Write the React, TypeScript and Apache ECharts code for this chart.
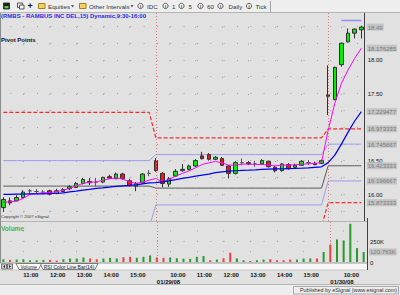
import React, { useEffect, useRef } from 'react';
import * as echarts from 'echarts';

const FONT = 'Liberation Sans, Arial, sans-serif';

// ---- categories (15-minute bars) ----
const dayDates = ['01/28/08', '01/29/08', '01/30/08'];
const day1Times = ['10:15','10:30','10:45','11:00','11:15','11:30','11:45','12:00','12:15','12:30','12:45','13:00','13:15','13:30','13:45','14:00','14:15','14:30','14:45','15:00','15:15','15:30','15:45'];
const day2Times = ['9:30','9:45','10:00','10:15','10:30','10:45','11:00','11:15','11:30','11:45','12:00','12:15','12:30','12:45','13:00','13:15','13:30','13:45','14:00','14:15','14:30','14:45','15:00','15:15','15:30','15:45'];
const day3Times = ['9:30','9:45','10:00','10:15','10:30','10:45'];
const dayTimes = [day1Times, day2Times, day3Times];

// ---- OHLC ----
const opens = [15.80,15.90,15.90,15.95,16.05,16.04,16.03,16.05,16.01,16.04,16.08,16.10,16.16,16.19,16.18,16.18,16.26,16.23,16.30,16.20,16.12,16.17,16.31,
  16.50,16.31,16.15,16.27,16.35,16.37,16.42,16.57,16.59,16.52,16.53,16.42,16.31,16.47,16.47,16.45,16.45,16.49,16.40,16.35,16.44,16.40,16.43,16.47,16.46,16.46,
  17.48,17.41,17.93,18.27,18.40,18.45];
const closes = [15.92,15.87,15.95,16.03,16.05,16.04,16.03,16.00,16.05,16.07,16.11,16.16,16.22,16.17,16.18,16.25,16.24,16.30,16.23,16.13,16.16,16.30,16.31,
  16.35,16.16,16.23,16.34,16.37,16.42,16.50,16.53,16.52,16.55,16.43,16.31,16.47,16.47,16.45,16.45,16.50,16.41,16.35,16.45,16.38,16.43,16.49,16.47,16.44,16.50,
  17.46,17.89,18.25,18.40,18.46,18.49];
const highs = [15.955,15.95,15.985,16.06,16.075,16.075,16.06,16.067,16.08,16.09,16.134,16.18,16.243,16.239,16.243,16.26,16.291,16.321,16.318,16.224,16.18,16.313,16.358,
  16.537,16.328,16.254,16.373,16.448,16.44,16.522,16.631,16.612,16.567,16.552,16.433,16.493,16.533,16.493,16.497,16.522,16.5,16.418,16.463,16.463,16.455,16.507,16.507,16.485,16.515,
  17.92,17.90,18.26,18.47,18.47,18.51];
const lows = [15.736,15.836,15.896,15.936,16.0,16.015,16.0,15.985,16.0,16.03,16.06,16.09,16.145,16.134,16.12,16.164,16.224,16.224,16.216,16.112,16.045,16.157,16.269,
  16.336,16.10,16.109,16.261,16.336,16.358,16.403,16.515,16.5,16.507,16.418,16.234,16.291,16.433,16.433,16.407,16.433,16.396,16.324,16.336,16.366,16.388,16.425,16.433,16.433,16.448,
  17.18,17.40,17.90,18.26,18.32,18.32];

// ---- moving averages ----
const magentaMA = [15.881,15.885,15.896,15.936,15.996,16.01,16.019,16.025,16.034,16.06,
  16.085,16.124,16.16,16.179,16.179,16.209,16.228,16.243,16.228,16.184,
  16.16,16.179,16.209,16.234,16.184,16.22,16.269,16.309,16.348,16.393,
  16.443,16.467,16.488,16.467,16.433,16.433,16.448,16.448,16.443,16.443,
  16.433,16.422,16.433,16.433,16.437,16.448,16.452,16.458,16.473,16.955,
  17.354,17.652,17.851,18.025,18.176285];
const blueMA = [15.996,15.996,16.0,16.0,16.004,16.004,16.004,16.01,16.01,16.019,
  16.034,16.045,16.06,16.07,16.085,16.094,16.104,16.115,16.124,16.13,
  16.139,16.154,16.169,16.172,16.184,16.199,16.216,16.234,16.251,16.269,
  16.284,16.299,16.321,16.333,16.343,16.349,16.354,16.358,16.363,16.369,
  16.373,16.376,16.378,16.381,16.384,16.388,16.393,16.4,16.407,16.47,
  16.582,16.746,16.925,17.09,17.229477];

// ---- pivot levels per day ----
const pivotR1 = [17.22, 16.84, 16.973333];
const pivotMidHigh = [16.50, 16.59, 16.745667];
const pivotP = [16.12, 16.09, 16.423333];
const pivotMidLow = [15.50, 15.84, 16.196667];
const pivotS1 = [15.20, 15.52, 15.873333];
const sessionHigh = [null, null, 18.59];
const sessionHighFromTime = '10:00';

// ---- volume (thousands) ----
const volumes = [33,25,29,33,21,21,25,25,17,33,
  42,42,54,42,33,42,50,42,58,62,
  50,62,79,55,50,55,45,40,38,62,
  71,21,29,45,112,42,21,12,21,29,
  33,21,21,29,29,42,42,42,120,208,
  271,259,459,167,120.763];
const volumeDir = ['u','d','u','u','u','u','u','d','d','u',
  'u','u','u','d','d','u','u','u','d','d',
  'u','u','u','d','d','u','u','u','u','u',
  'u','d','u','d','d','u','u','d','u','u',
  'd','d','d','d','u','u','u','d','u','d',
  'u','u','u','u','u'];

// ---- axis labels ----
const priceGridLevels = [15.75,16,16.25,16.5,16.75,17,17.25,17.5,17.75,18,18.25,18.5];
const priceLabelValues = [18.49, 18.176285, 18.0, 17.5, 17.229477, 16.973333, 16.745667, 16.5, 16.423333, 16.196667, 16.0, 15.873333];
const priceLabelTexts = ['18.49','18.176285','18.00','17.50','17.229477','16.973333','16.745667','16.50','16.423333','16.196667','16.00','15.873333'];
const priceLabelBoxed = [true, true, false, false, true, true, true, false, true, true, false, true];
const volumeLabelValues = [0, 120.763, 250];
const volumeLabelTexts = ['0', '120.763K', '250K'];
const volumeLabelBoxed = [false, true, false];

const categories: string[] = dayDates.flatMap((d, k) => dayTimes[k].map((t) => `${d} ${t}`));
const timeOf = (c: string) => c.split(' ')[1];
const dateOf = (c: string) => c.split(' ')[0];
const perBar = (vals: (number | null)[]) => dayTimes.flatMap((ts, k) => ts.map(() => vals[k]));
const isHour = (i: number) => timeOf(categories[i]).endsWith(':00');
const isDayStart = (i: number) => timeOf(categories[i]) === '9:30';
const dayStartCats = categories.filter((c, i) => isDayStart(i));

const sessionHighData = (() => {
  const base = perBar(sessionHigh);
  const lastDay = dayDates[dayDates.length - 1];
  const startIdx = categories.indexOf(`${lastDay} ${sessionHighFromTime}`);
  return base.map((v, i) => (i >= startIdx ? v : null));
})();

const labelFmt = (vals: number[], texts: string[], boxed: boolean[]) => (v: number) => {
  let k = 0;
  let best = Infinity;
  vals.forEach((x, i) => { const d = Math.abs(x - v); if (d < best) { best = d; k = i; } });
  return boxed[k] ? `{b|${texts[k]}}` : `{p|${texts[k]}}`;
};

const richLabels = {
  b: { backgroundColor: '#c4c4c4', color: '#7a7a7a', fontSize: 6, fontFamily: FONT, padding: [1, 1, 0, 1] },
  p: { color: '#111111', fontSize: 6, fontFamily: FONT, padding: [1, 1, 0, 1] },
};

const dotted = '#9c9c9c';

const pivotLine = (name: string, vals: (number | null)[], color: string, type: any, width = 1) => ({
  name, type: 'line', xAxisIndex: 0, yAxisIndex: 0, data: perBar(vals), symbol: 'none', showSymbol: false,
  z: 1, silent: true, connectNulls: false,
  lineStyle: { color, width, type },
});

const T = (x: number, y: number, text: string, o: any = {}) => ({
  type: 'text', x, y, z: 60, silent: true,
  style: {
    text, fill: o.fill || '#222', fontSize: o.size || 6, fontWeight: o.weight || 'normal',
    fontFamily: FONT, align: o.align || 'left', verticalAlign: 'middle',
  },
});
const L = (x1: number, y1: number, x2: number, y2: number, stroke: string, z = 55) => ({
  type: 'line', z, silent: true, shape: { x1, y1, x2, y2 }, style: { stroke, lineWidth: 1 },
});
const R = (x: number, y: number, w: number, h: number, fill: string, stroke?: string, z = 55) => ({
  type: 'rect', z, silent: true, shape: { x, y, width: w, height: h },
  style: { fill, stroke: stroke || null, lineWidth: stroke ? 1 : 0 },
});
const circI = (cx: number) => [
  { type: 'circle', z: 60, silent: true, shape: { cx, cy: 6, r: 2.6 }, style: { fill: '#f6f6f6', stroke: '#333', lineWidth: 0.8 } },
  T(cx, 6.2, 'I', { size: 4, align: 'center', fill: '#222', weight: 'bold' }),
];

const graphics: any[] = [
  // toolbar
  R(0, 0, 400, 12.5, '#eeeeee', undefined, 50),
  L(0, 12.5, 400, 12.5, '#b4b4b4'),
  R(3.5, 3, 6, 6, '#1c1c1c', '#333'),
  R(4.5, 6, 4, 2.2, '#4cd04c'),
  R(17.5, 3, 5, 4.5, '#ffffff', '#555'),
  R(19.5, 5, 4.5, 4, '#ffffff', '#555'),
  T(30, 6, '+', { size: 9, weight: 'bold', align: 'center', fill: '#111' }),
  R(38.5, 3.5, 6.5, 5, '#f2d264', '#a08020'),
  T(48, 6, 'Equities', { size: 6.2, fill: '#333' }),
  { type: 'polygon', z: 60, silent: true, shape: { points: [[71, 5.3], [74, 5.3], [72.5, 7.2]] }, style: { fill: '#333' } },
  R(79.5, 3.5, 6.5, 5, '#f2d264', '#a08020'),
  T(89, 6, 'Other Intervals', { size: 6.2, fill: '#333' }),
  { type: 'polygon', z: 60, silent: true, shape: { points: [[130.5, 5.3], [133.5, 5.3], [132, 7.2]] }, style: { fill: '#333' } },
  ...circI(140.5), T(147, 6, 'IDC', { size: 6.2, fill: '#333' }),
  ...circI(165.5), T(172, 6, '1', { size: 6.2, fill: '#333' }),
  ...circI(181.5), T(188.5, 6, '5', { size: 6.2, fill: '#333' }),
  ...circI(200.5), T(207, 6, '60', { size: 6.2, fill: '#333' }),
  ...circI(220.5), T(228.5, 6, 'Daily', { size: 6.2, fill: '#333' }),
  ...circI(249), T(255.5, 6, 'Tick', { size: 6.2, fill: '#333' }),
  L(270.5, 1, 270.5, 12, '#a0a0a0'),
  // pane texts
  T(1, 15.8, '(RMBS - RAMBUS INC DEL,15) Dynamic,9:30-16:00', { size: 6, weight: 'bold', fill: '#2b2be0' }),
  T(1, 40, 'Pivot Points', { size: 6, weight: 'bold', fill: '#111' }),
  T(1, 216.5, 'Copyright © 2007 eSignal.', { size: 4.2, fill: '#333' }),
  L(0, 221.5, 367, 221.5, '#b4b4b4'),
  T(1, 228.5, 'Volume', { size: 6.5, weight: 'bold', fill: '#4cb04c' }),
  // borders
  L(0.5, 13, 0.5, 263, '#8c8c8c'),
  L(367.5, 218, 367.5, 270, '#404040'),
  // tab bar
  R(0, 263, 367, 7, '#f7f7f7', undefined, 50),
  L(0, 263, 367, 263, '#9a9a9a'),
  L(0, 270, 367, 270, '#c8c8c8'),
  R(1.5, 264, 5, 5, '#d8d8d8', '#707070'),
  { type: 'polygon', z: 61, silent: true, shape: { points: [[5, 264.9], [5, 268.1], [3, 266.5]] }, style: { fill: '#222' } },
  R(7.5, 264, 5, 5, '#d8d8d8', '#707070'),
  { type: 'polygon', z: 61, silent: true, shape: { points: [[9, 264.9], [9, 268.1], [11, 266.5]] }, style: { fill: '#222' } },
  { type: 'polygon', z: 58, silent: true, shape: { points: [[16, 263.5], [19, 269.5], [38.5, 269.5], [41.5, 263.5]] }, style: { fill: '#ffffff', stroke: '#606060', lineWidth: 0.8 } },
  T(28.8, 266.6, 'Volume', { size: 5, align: 'center', fill: '#222' }),
  { type: 'polygon', z: 57, silent: true, shape: { points: [[40, 263.5], [43, 269.5], [95, 269.5], [98, 263.5]] }, style: { fill: '#f3f3f3', stroke: '#606060', lineWidth: 0.8 } },
  T(69, 266.6, 'RSI Color Line Bar(14)', { size: 5, align: 'center', fill: '#222' }),
  // status bar
  R(0, 285, 400, 10, '#ededed', undefined, 50),
  L(0, 284.5, 400, 284.5, '#b4b4b4'),
  R(293.5, 286.5, 105, 7.5, 'none', '#a8a8a8'),
  T(397, 290.4, 'Published by eSignal (www.esignal.com)', { size: 5.4, align: 'right', fill: '#333' }),
];

const sepMarkLine = {
  silent: true,
  symbol: ['none', 'none'],
  label: { show: false },
  emphasis: { disabled: true },
  lineStyle: { color: '#d28080', type: [1, 2], width: 1 },
  data: dayStartCats.map((c) => ({ xAxis: c })),
};

const option: any = {
  animation: false,
  backgroundColor: '#e1e1e1',
  textStyle: { fontFamily: FONT },
  grid: [
    { left: 0, top: 13, width: 367, height: 208, show: false },
    { left: 0, top: 222, width: 367, height: 40, show: false },
  ],
  xAxis: [
    {
      type: 'category', gridIndex: 0, data: categories, boundaryGap: true,
      axisLine: { show: false, onZero: false }, axisTick: { show: false }, axisLabel: { show: false },
      splitLine: { show: true, interval: (i: number) => isHour(i), alignWithLabel: true,
        lineStyle: { color: dotted, width: 1, type: [1, 15.775], dashOffset: 3.3 } },
    },
    {
      type: 'category', gridIndex: 1, data: categories, boundaryGap: true, position: 'bottom',
      axisLine: { show: false, onZero: false }, axisTick: { show: false },
      axisLabel: {
        show: true, interval: (i: number) => isHour(i), formatter: (v: string) => timeOf(v),
        margin: 10, align: 'left', fontSize: 6, fontWeight: 'bold', color: '#111', fontFamily: FONT,
      },
      splitLine: { show: true, interval: (i: number) => isHour(i), alignWithLabel: true,
        lineStyle: { color: dotted, width: 1, type: [1, 9.4], dashOffset: 1.6 } },
    },
    {
      type: 'category', gridIndex: 1, data: categories, boundaryGap: true, position: 'bottom',
      axisLine: { show: false, onZero: false }, axisTick: { show: false }, splitLine: { show: false },
      axisLabel: {
        show: true, interval: (i: number) => isDayStart(i), formatter: (v: string) => dateOf(v),
        margin: 17, align: 'left', fontSize: 6, fontWeight: 'bold', color: '#111', fontFamily: FONT,
      },
    },
  ],
  yAxis: [
    {
      type: 'value', gridIndex: 0, position: 'right', min: 15.6, max: 18.7,
      axisLine: { show: true, lineStyle: { color: '#404040', width: 1 } },
      axisTick: { show: false, customValues: priceGridLevels },
      axisLabel: { show: true, customValues: priceLabelValues, margin: 2, hideOverlap: false,
        formatter: labelFmt(priceLabelValues, priceLabelTexts, priceLabelBoxed), rich: richLabels },
      splitLine: { show: true, lineStyle: { color: dotted, width: 1, type: [1, 12.33], dashOffset: 3.33 } },
    },
    {
      type: 'value', gridIndex: 1, position: 'right', min: 0, max: 480,
      axisLine: { show: true, lineStyle: { color: '#404040', width: 1 } },
      axisTick: { show: false, customValues: [250] },
      axisLabel: { show: true, customValues: volumeLabelValues, margin: 2, hideOverlap: false,
        formatter: labelFmt(volumeLabelValues, volumeLabelTexts, volumeLabelBoxed), rich: richLabels },
      splitLine: { show: true, lineStyle: { color: dotted, width: 1, type: [1, 12.33], dashOffset: 3.33 } },
    },
  ],
  graphic: { elements: graphics },
  series: [
    pivotLine('R1', pivotR1, '#ff2a2a', [4, 2], 1.2),
    pivotLine('MidHigh', pivotMidHigh, '#9c9cf0', 'solid', 1),
    pivotLine('Pivot', pivotP, '#5a5a5a', 'solid', 1),
    pivotLine('MidLow', pivotMidLow, '#9c9cf0', 'solid', 1),
    pivotLine('S1', pivotS1, '#ff2a2a', [4, 2], 1.2),
    {
      name: 'SessionHigh', type: 'line', xAxisIndex: 0, yAxisIndex: 0, data: sessionHighData,
      symbol: 'none', z: 1, silent: true, lineStyle: { color: '#8f8ff0', width: 1.5 },
    },
    {
      name: 'RMBS', type: 'candlestick', xAxisIndex: 0, yAxisIndex: 0, barWidth: 4, z: 2, silent: true,
      data: opens.map((o, i) => [o, closes[i], lows[i], highs[i]]),
      itemStyle: { color: '#00f000', color0: '#ff1010', borderColor: '#303030', borderColor0: '#303030',
        borderColorDoji: '#555555', borderWidth: 1 },
      markLine: sepMarkLine,
    },
    {
      name: 'MA fast', type: 'line', xAxisIndex: 0, yAxisIndex: 0, data: magentaMA, symbol: 'none', z: 3,
      silent: true, lineStyle: { color: '#ff00ff', width: 1 },
    },
    {
      name: 'MA slow', type: 'line', xAxisIndex: 0, yAxisIndex: 0, data: blueMA, symbol: 'none', z: 3,
      silent: true, lineStyle: { color: '#0000ee', width: 1.2 },
    },
    {
      name: 'Volume', type: 'bar', xAxisIndex: 1, yAxisIndex: 1, barWidth: 2, z: 5, silent: true,
      data: volumes.map((v, i) => ({ value: v, itemStyle: { color: volumeDir[i] === 'u' ? '#2a9a2a' : '#ee4040' } })),
      markLine: sepMarkLine,
    },
  ],
};

export default function App() {
  const ref = useRef<HTMLDivElement>(null);
  useEffect(() => {
    if (!ref.current) return;
    const chart = echarts.init(ref.current, null, { renderer: 'svg' });
    chart.setOption(option);
    return () => chart.dispose();
  }, []);
  return <div ref={ref} style={{ position: 'absolute', left: 0, top: 0, width: 400, height: 295 }} />;
}
